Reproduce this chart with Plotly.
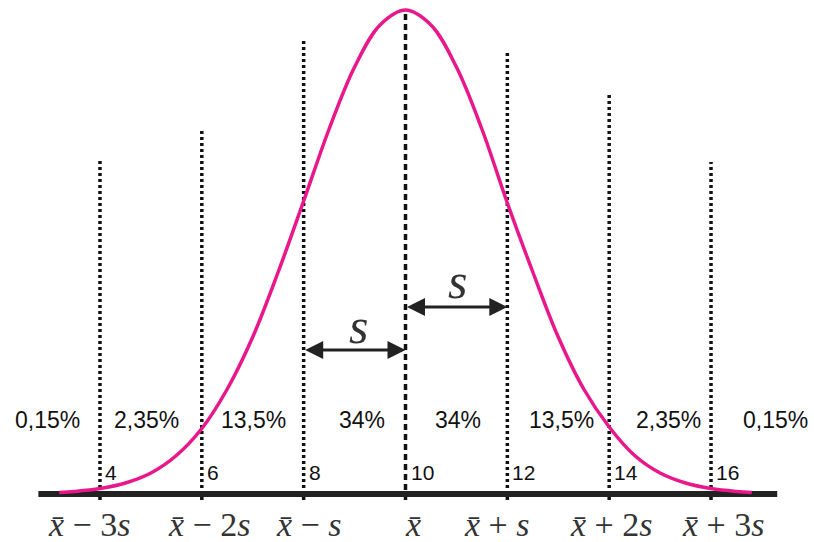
import plotly.graph_objects as go

# ---- data ----
curve_x = [3.2, 3.5, 4, 4.5, 5, 5.5, 6, 6.5, 7, 7.5, 8, 8.5, 9, 9.5, 10,
           10.5, 11, 11.5, 12, 12.5, 13, 13.5, 14, 14.5, 15, 15.5, 16, 16.5, 16.8]
curve_y = [1.5, 2.5, 5.4, 11, 21, 38.5, 65.5, 105, 157, 222, 293, 365, 427, 469, 484,
           469, 427, 365, 291, 222, 157, 105, 67, 38.5, 21, 11, 5.4, 2.5, 1.5]

line_x = [4, 6, 8, 10, 12, 14, 16]
line_top = [335, 366, 454, 484, 443, 400, 332]
line_labels = ["4", "6", "8", "10", "12", "14", "16"]

pct_labels = ["0,15%", "2,35%", "13,5%", "34%", "34%", "13,5%", "2,35%", "0,15%"]
pct_x = [2.96, 4.92, 7.02, 9.15, 11.04, 13.07, 15.17, 17.26]

sym_labels = ["<i>x̄</i> − 3<i>s</i>", "<i>x̄</i> − 2<i>s</i>", "<i>x̄</i> − <i>s</i>", "<i>x̄</i>",
              "<i>x̄</i> + <i>s</i>", "<i>x̄</i> + 2<i>s</i>", "<i>x̄</i> + 3<i>s</i>"]
sym_x = [3.79, 6.16, 8.10, 10.15, 11.80, 14.05, 16.25]

baseline_x = [2.79, 17.30]

fig = go.Figure()

# vertical dotted lines
for xv, top in zip(line_x, line_top):
    fig.add_trace(go.Scatter(
        x=[xv, xv], y=[-6, top], mode="lines",
        line=dict(color="#111111", width=3.5, dash="6px,4px" if xv == 10 else "3px,3px"),
        hoverinfo="skip", showlegend=False))

# baseline
fig.add_trace(go.Scatter(x=baseline_x, y=[0, 0], mode="lines",
                         line=dict(color="#222222", width=6),
                         hoverinfo="skip", showlegend=False))

# normal curve
fig.add_trace(go.Scatter(x=curve_x, y=curve_y, mode="lines",
                         line=dict(color="#E8178A", width=3.5, shape="spline"),
                         hoverinfo="skip", showlegend=False))

ann = []
for t, xv in zip(pct_labels, pct_x):
    ann.append(dict(x=xv, y=74, text=t, showarrow=False, xanchor="center", yanchor="middle",
                    font=dict(family="Liberation Sans, Arial", size=23, color="#111111")))
for t, xv in zip(line_labels, line_x):
    ann.append(dict(x=xv, y=22, text=t, showarrow=False, xanchor="left", yanchor="middle",
                    xshift=3, font=dict(family="Liberation Sans, Arial", size=21, color="#111111")))
for t, xv in zip(sym_labels, sym_x):
    ann.append(dict(x=xv, y=-30, text=t, showarrow=False, xanchor="center", yanchor="middle",
                    font=dict(family="Liberation Serif, Times New Roman, serif", size=34, color="#333333")))

# double arrows
for (x0, x1, yv) in [(8, 10, 144), (10, 12, 187)]:
    ann.append(dict(x=x1, y=yv, ax=x0, ay=yv, axref="x", ayref="y", xref="x", yref="y",
                    text="", showarrow=True, arrowhead=2, arrowside="end+start",
                    arrowsize=1.2, arrowwidth=3, arrowcolor="#222222", standoff=0, startstandoff=0))
for (xv, yv) in [(9.07, 168), (11.03, 213)]:
    ann.append(dict(x=xv, y=yv, text="<i>s</i>", showarrow=False, xanchor="center", yanchor="middle",
                    font=dict(family="Liberation Serif, Times New Roman, serif", size=50, color="#333333")))

fig.update_layout(
    width=814, height=542,
    margin=dict(l=0, r=0, t=0, b=0),
    paper_bgcolor="white", plot_bgcolor="white",
    xaxis=dict(range=[2.0366, 18.0224], visible=False, fixedrange=True),
    yaxis=dict(range=[-48, 494], visible=False, fixedrange=True),
    annotations=ann,
    showlegend=False,
)

fig.write_html("out.html",
               config={"displayModeBar": False},
               post_script="document.body.style.margin='0';document.body.style.overflow='hidden';")
